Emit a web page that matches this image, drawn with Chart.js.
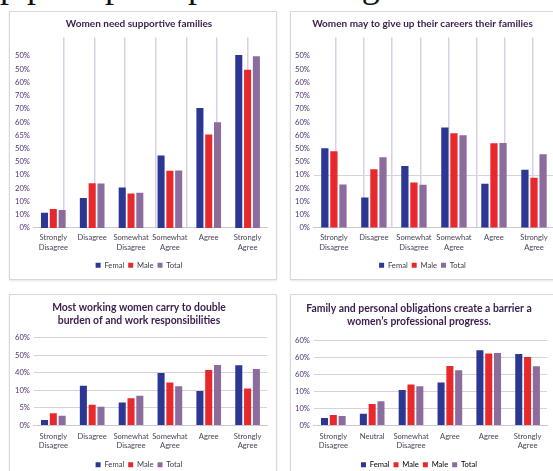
<!DOCTYPE html>
<html><head><meta charset="utf-8">
<script src="https://cdn.jsdelivr.net/npm/chart.js@4.4.1/dist/chart.umd.min.js"></script>
<style>
html,body{margin:0;padding:0;background:#fff;width:553px;height:471px;overflow:hidden;position:relative;}
.panel{position:absolute;background:#fff;border:1px solid #dad6df;box-shadow:0 1px 2px rgba(0,0,0,0.10);box-sizing:border-box;overflow:hidden}
canvas{display:block}
.heading{position:absolute;left:-66px;top:-33px;font-family:"Liberation Serif","DejaVu Serif",serif;font-size:36px;line-height:36px;color:#111;white-space:nowrap}
</style></head><body>
<div class="heading">group perception patterns for gender</div>
<div class="panel" style="left:9px;top:11px;width:268px;height:269px"><canvas id="c1" width="266" height="267"></canvas></div>
<div class="panel" style="left:290px;top:11px;width:272px;height:269px"><canvas id="c2" width="270" height="267"></canvas></div>
<div class="panel" style="left:9px;top:294px;width:268px;height:192px"><canvas id="c3" width="266" height="190"></canvas></div>
<div class="panel" style="left:290px;top:294px;width:272px;height:192px"><canvas id="c4" width="270" height="190"></canvas></div>
<script>
// ---- data ----
const categoriesA = [['Strongly','Disagree'],'Disagree',['Somewhat','Disagree'],['Somewhat','Agree'],'Agree',['Strongly','Agree']];
const categoriesD = [['Strongly','Disagree'],'Neutral',['Somewhat','Disagree'],'Agree','Agree',['Strongly','Agree']];
const seriesNames = ['Femal','Male','Total'];
const legendNamesD = ['Femal','Male','Male','Total'];

// values in axis units (top panels: one tick = 5 units; bottom panels: one tick = 10 units)
const supportFemale = [5.7, 11.3, 15.3, 27.4, 45.3, 65.4];
const supportMale   = [7.2, 16.9, 13.0, 21.6, 35.3, 59.8];
const supportTotal  = [6.8, 16.8, 13.3, 21.7, 40.0, 64.9];

const careersFemale = [30.1, 11.5, 23.4, 38.0, 16.7, 22.0];
const careersMale   = [29.0, 22.2, 17.2, 35.8, 32.0, 19.0];
const careersTotal  = [16.4, 26.7, 16.3, 35.0, 32.1, 27.9];

const burdenFemale  = [3.1, 22.5, 13.0, 29.8, 19.6, 34.2];
const burdenMale    = [6.9, 11.7, 15.4, 24.4, 31.5, 21.0];
const burdenTotal   = [5.5, 10.6, 16.9, 22.3, 34.4, 32.1];

const barrierFemale = [4.3, 6.9, 20.8, 25.2, 44.1, 41.9];
const barrierMale   = [6.1, 12.6, 24.0, 34.8, 42.1, 40.1];
const barrierTotal  = [5.5, 14.2, 23.0, 32.3, 42.5, 34.7];

// tick labels, bottom to top (as printed in the source)
const tickLabelsSupport = ['0%','10%','10%','20%','10%','50%','50%','65%','60%','70%','70%','60%','50%','50%'];
const tickLabelsCareers = ['0%','10%','10%','20%','10%','50%','50%','60%','60%','70%','70%','60%','50%','50%'];
const tickLabelsBurden  = ['0%','5%','10%','40%','50%','60%'];
const tickLabelsBarrier = ['0%','10%','10%','60%','60%','60%'];

// ---- style ----
const COLORS = ['#2c3693','#e8292b','#8c6b9d'];
const FONT = 'Lato, "Open Sans", sans-serif';
const TITLE_COLOR = '#3a1d4c';
const YTICK_COLOR = '#4e3170';
const XTICK_COLOR = '#4a4458';
const GRID_COLOR = '#d9d0e4';

function datasets(a, b, c) {
  return [a, b, c].map((d, i) => ({
    label: seriesNames[i], data: d, backgroundColor: COLORS[i],
    barPercentage: 0.8, categoryPercentage: 0.68
  }));
}

function build(id, o) {
  const tickVals = o.yLabels.map((_, i) => i * o.yStep);
  const scales = {
    x: {
      type: 'category', offset: true,
      grid: {display: false, drawTicks: false},
      border: {display: true, color: '#cdc6d6', width: 1},
      ticks: {font: {family: FONT, size: 7.6, lineHeight: 1.28}, color: XTICK_COLOR, padding: o.xPad, maxRotation: 0, autoSkip: false}
    },
    y: {
      min: 0, max: o.yMax,
      afterBuildTicks: a => { a.ticks = tickVals.map(v => ({value: v})); },
      grid: {
        display: o.yGrid !== 'none', drawTicks: false, lineWidth: 1,
        color: c => (o.yGrid === 'all' || (o.yGrid === 'one' && c.tick && c.tick.value === o.yGridValue)) ? GRID_COLOR : 'rgba(0,0,0,0)'
      },
      border: {display: false},
      ticks: {font: {family: FONT, size: 7.6}, color: YTICK_COLOR, padding: 4, callback: (v, i) => o.yLabels[i]}
    }
  };
  if (o.vLines) {
    scales.xg = {
      type: 'linear', position: 'bottom', min: o.vLines.min, max: o.vLines.max,
      afterBuildTicks: a => { a.ticks = o.vLines.at.map(v => ({value: v})); },
      afterFit: a => { a.height = 0; },
      grid: {display: true, drawTicks: false, color: GRID_COLOR, lineWidth: 1.5},
      border: {display: false},
      ticks: {display: false}
    };
  }
  const legendLabels = o.legendNames;
  new Chart(document.getElementById(id), {
    type: 'bar',
    data: {labels: o.categories, datasets: o.datasets},
    options: {
      responsive: false, animation: false, devicePixelRatio: 1,
      layout: {padding: o.padding},
      plugins: {
        title: {display: true, text: o.title, color: TITLE_COLOR,
          font: {family: FONT, size: o.titleSize, weight: 'bold', lineHeight: o.titleLH},
          padding: o.titlePadding},
        legend: {position: 'bottom',
          labels: {boxWidth: 5, boxHeight: 5, padding: 4, color: '#3f3a4a', font: {family: FONT, size: 7.6},
            generateLabels: legendLabels ? (chart) => legendLabels.map((n, i) => {
              const col = n === 'Femal' ? COLORS[0] : (n === 'Male' ? COLORS[1] : COLORS[2]);
              return {text: n, fillStyle: col, strokeStyle: col, lineWidth: 0, hidden: false, datasetIndex: Math.min(i, 2)};
            }) : undefined
          }},
        tooltip: {enabled: false}
      },
      scales
    }
  });
}

build('c1', {
  title: 'Women need supportive families', titleSize: 10, titleLH: 1.2, titlePadding: {top: 6, bottom: 7.5},
  categories: categoriesA, datasets: datasets(supportFemale, supportMale, supportTotal),
  yLabels: tickLabelsSupport, yStep: 5, yMax: 72, yGrid: 'none', xPad: 5,
  vLines: {min: -0.851, max: 5.501, at: [0,1,2,3,4,5]},
  padding: {left: 1, right: 9, top: 0, bottom: 0}
});
build('c2', {
  title: 'Women may to give up their careers their families', titleSize: 10, titleLH: 1.2, titlePadding: {top: 6, bottom: 7.5},
  categories: categoriesA, datasets: datasets(careersFemale, careersMale, careersTotal),
  yLabels: tickLabelsCareers, yStep: 5, yMax: 72, yGrid: 'one', yGridValue: 20, xPad: 5,
  vLines: {min: -0.673, max: 6.636, at: [0,1,2,3,4,5,6]},
  padding: {left: 0, right: 7, top: 0, bottom: 0}
});
build('c3', {
  title: ['Most working women carry to double', 'burden of and work responsibilities'], titleSize: 10.4, titleLH: 1.25, titlePadding: {top: 6.5, bottom: 10},
  categories: categoriesA, datasets: datasets(burdenFemale, burdenMale, burdenTotal),
  yLabels: tickLabelsBurden, yStep: 10, yMax: 50, yGrid: 'all', xPad: 6,
  padding: {left: 1, right: 9, top: 0, bottom: 6.5}
});
build('c4', {
  title: ['Family and personal obligations create a barrier a', 'women\u2019s professional progress.'], titleSize: 10.4, titleLH: 1.25, titlePadding: {top: 6.8, bottom: 12.3},
  categories: categoriesD, datasets: datasets(barrierFemale, barrierMale, barrierTotal),
  yLabels: tickLabelsBarrier, yStep: 10, yMax: 50, yGrid: 'all', xPad: 6,
  legendNames: legendNamesD,
  padding: {left: 0, right: 14, top: 0, bottom: 6.5}
});
</script>
</body></html>
